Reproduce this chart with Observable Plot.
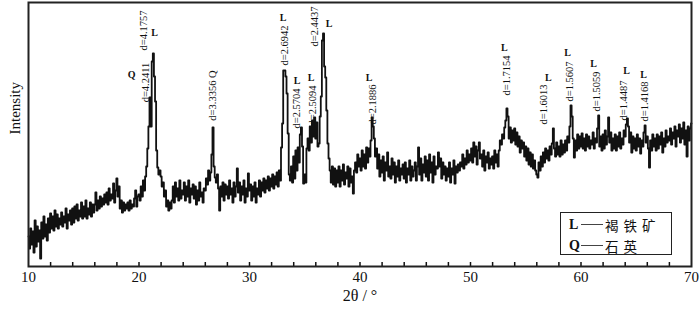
<!DOCTYPE html>
<html>
<head>
<meta charset="utf-8">
<script src="https://cdn.jsdelivr.net/npm/d3@7"></script>
<script src="https://cdn.jsdelivr.net/npm/@observablehq/plot@0.6"></script>
<style>
  html, body { margin: 0; padding: 0; background: #fff; }
  #wrap { position: relative; width: 700px; height: 311px; }
  #wrap svg { font-family: "Liberation Serif", serif; }
  #legend {
    position: absolute; left: 560px; top: 212px; width: 112px; height: 43px;
    border: 1.5px solid #222; background: #fff; box-sizing: border-box;
    font-family: "Liberation Serif", serif; font-size: 14px; color: #111;
  }
  #legend .row { position: absolute; left: 8px; height: 16px; line-height: 16px; white-space: nowrap; }
  #legend .key { font-weight: bold; display: inline-block; width: 11px; vertical-align: middle; }
  #legend .dash { display: inline-block; width: 22px; border-top: 1px solid #444; vertical-align: middle; margin: 0 2px 0 1px; }
  #legend .zh { font-family: "Noto Sans CJK SC", sans-serif; font-size: 13.5px; line-height: 16px; letter-spacing: 5px; vertical-align: middle; }
</style>
</head>
<body>
<div id="wrap"></div>
<script>
// Intensity samples every 0.1° of 2θ, one array per 10°
const seg10 = [
  30,18,38,22,35,14,46,20,40,25,
  36,8,44,28,50,30,42,26,48,34,
  53,38,50,36,56,40,52,38,48,42,
  54,40,50,44,58,38,52,46,56,42,
  58,44,60,48,62,46,56,50,64,48,
  60,50,66,48,58,52,64,50,62,54,
  62,74,56,66,58,70,60,68,62,72,
  64,74,62,78,66,72,68,83,64,76,
  88,70,80,58,66,54,64,56,62,58,
  64,56,66,58,62,60,68,76,60,70
];
const seg20 = [
  72,66,80,70,86,76,90,100,118,140,
  169,140,205,213,190,165,116,99,92,96,
  90,80,84,70,76,60,66,56,64,58,
  66,80,64,84,70,78,66,86,68,76,
  72,84,66,80,70,86,64,78,72,82,
  68,80,62,76,66,84,70,74,64,78,
  76,88,82,96,86,94,112,139,100,89,
  84,92,78,56,80,70,84,66,82,72,
  80,68,86,72,78,64,84,70,80,98,
  74,84,66,80,72,86,64,78,70,93
];
const seg30 = [
  76,82,66,80,70,84,64,78,72,86,
  70,84,76,88,74,86,78,90,76,88,
  80,92,78,90,82,94,80,96,86,119,
  143,196,196,190,173,133,92,86,100,84,
  110,88,116,96,119,104,132,139,120,83,
  92,84,118,128,116,140,124,146,130,149,
  128,144,120,123,150,170,226,233,200,189,
  156,123,108,96,84,100,82,98,80,96,
  84,100,80,96,86,102,82,94,88,100,
  80,98,84,90,73,96,104,94,112,100
];
const seg40 = [
  108,96,116,100,112,98,119,104,118,110,
  126,149,140,128,110,118,98,112,90,106,
  94,110,86,104,96,114,90,100,88,108,
  92,104,84,100,90,106,86,98,92,102,
  88,104,84,98,92,106,86,100,90,96,
  104,86,100,119,92,108,86,102,94,110,
  90,106,86,112,94,104,84,110,92,100,
  98,114,100,108,88,104,92,100,86,98,
  90,104,84,98,92,106,83,100,94,102,
  96,104,100,112,98,108,102,116,104,112
];
const seg50 = [
  106,118,104,124,110,120,102,116,124,108,
  112,100,116,96,110,104,114,98,108,102,
  110,98,116,104,112,100,116,126,122,132,
  128,139,146,158,150,128,139,124,136,126,
  138,122,134,120,130,114,126,118,124,110,
  120,106,118,102,114,100,112,98,106,96,
  92,89,104,96,110,100,114,104,118,108,
  116,106,120,112,123,138,118,110,124,112,
  120,110,126,112,122,114,126,116,130,124,
  140,161,150,128,109,126,116,132,118,130
];
const seg60 = [
  120,133,118,128,116,132,120,130,118,126,
  122,134,118,128,124,138,151,120,130,116,
  132,118,136,122,130,149,124,134,116,128,
  118,132,116,130,120,134,118,128,122,136,
  130,142,148,140,124,134,114,130,118,128,
  116,132,120,128,113,126,120,134,141,124,
  130,118,99,126,116,132,120,128,116,132,
  118,130,122,134,114,128,120,136,124,130,
  126,138,122,134,128,140,120,136,130,142,
  124,138,128,144,122,136,110,140,126,138,
  143
];

// Axis ticks
const majorTicks = [10, 20, 30, 40, 50, 60, 70];
const minorTicks = [12,14,16,18,20,22,24,26,28,30,32,34,36,38,40,42,44,46,48,50,52,54,56,58,60,62,64,66,68];

// Peak annotations (d-spacing labels, vertical)
const dLabels = ["d=4.1757","d=4.2411","d=3.3356 Q","d=2.6942","d=2.5704","d=2.5094","d=2.4437","d=2.1886","d=1.7154","d=1.6013","d=1.5607","d=1.5059","d=1.4487","d=1.4168"];
const dAt2Theta = [20.43,20.61,26.68,33.21,34.30,35.75,35.90,41.10,53.25,56.60,58.96,61.41,63.85,65.76];
const dAtIntensity = [236,184,171,221,158,161,240,162,191,162,185,175,166,165];

// Phase letters above peaks
const phaseLetters = ["Q","L","L","L","L","L","L","L","L","L","L","L","L"];
const phaseAt2Theta = [19.34,21.42,33.03,34.30,35.57,37.20,40.82,53.06,57.05,58.78,61.13,64.12,65.67];
const phaseAtIntensity = [192,234,249,186,189,243,189,219,189,214,203,196,192];

const serif = "Liberation Serif, Times New Roman, serif";
const values = [...seg10, ...seg20, ...seg30, ...seg40, ...seg50, ...seg60];
const trace = values.map((v, i) => ({ t: Math.round((10 + i * 0.1) * 10) / 10, v }));
const dData = dLabels.map((s, i) => ({ s, x: dAt2Theta[i], y: dAtIntensity[i] }));
const pData = phaseLetters.map((s, i) => ({ s, x: phaseAt2Theta[i], y: phaseAtIntensity[i] }));

const chart = Plot.plot({
  width: 700,
  height: 311,
  marginLeft: 28,
  marginRight: 9,
  marginTop: 2,
  marginBottom: 45,
  style: { fontFamily: serif, background: "#fff", color: "#111" },
  x: { domain: [10, 70] },
  y: { domain: [0, 264], axis: null },
  marks: [
    Plot.line(trace, { x: "t", y: "v", curve: "step", stroke: "#111", strokeWidth: 1.8 }),
    Plot.ruleX(minorTicks, { x: d => d, y1: 0, y2: 4, stroke: "#111", strokeWidth: 1.5 }),
    Plot.frame({ stroke: "#222", strokeWidth: 2 }),
    Plot.axisX({ ticks: majorTicks, tickSize: 0, tickPadding: 5, fontSize: 15, fontFamily: serif, label: null, tickFormat: d => String(d) }),
    Plot.text(dData, { x: "x", y: "y", text: "s", rotate: -90, fontSize: 10.5, fontFamily: serif, fill: "#111" }),
    Plot.text(pData, { x: "x", y: "y", text: "s", fontSize: 10, fontWeight: "bold", fontFamily: serif, fill: "#111" }),
    Plot.text(["2θ / °"], { frameAnchor: "bottom", dy: 34, fontSize: 16, fontFamily: serif, fill: "#111" }),
    Plot.text(["Intensity"], { frameAnchor: "left", dx: -13, rotate: -90, fontSize: 15, fontFamily: serif, fill: "#111" })
  ]
});

const wrap = document.getElementById("wrap");
wrap.appendChild(chart);
const legend = document.createElement("div");
legend.id = "legend";
legend.innerHTML =
  '<div class="row" style="top:3px"><span class="key">L</span><span class="dash"></span><span class="zh">褐铁矿</span></div>' +
  '<div class="row" style="top:24px"><span class="key">Q</span><span class="dash"></span><span class="zh">石英</span></div>';
wrap.appendChild(legend);
</script>
</body>
</html>
